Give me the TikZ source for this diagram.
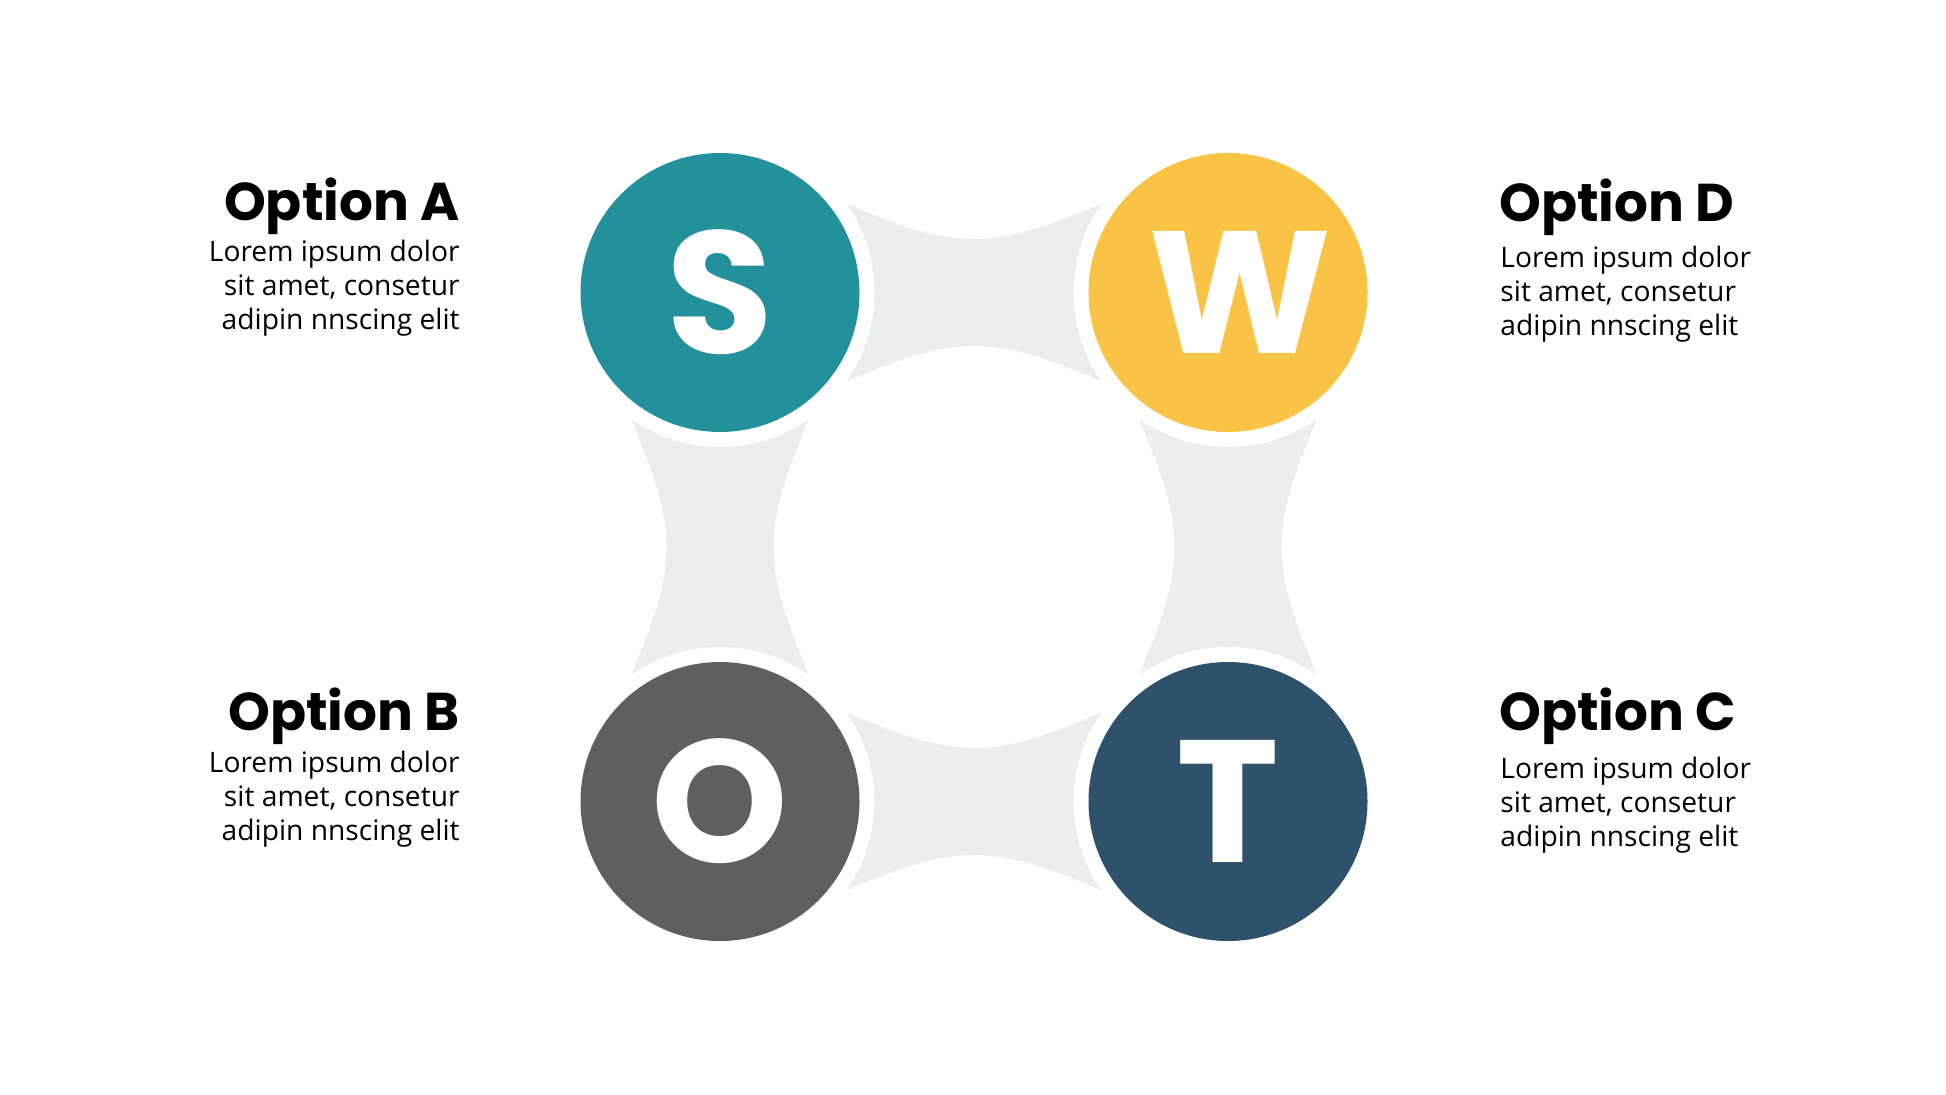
\documentclass[tikz,border=0pt]{standalone}
\usepackage{fontspec}
\setmainfont{Open Sans}
\newfontfamily\headfont{Poppins}
\usetikzlibrary{calc}
\definecolor{cteal}{HTML}{23919B}
\definecolor{cyellow}{HTML}{F9C446}
\definecolor{cgrey}{HTML}{605F5E}
\definecolor{cnavy}{HTML}{2F526C}
\definecolor{linkgrey}{HTML}{EAEEEE}
\begin{document}
\begin{tikzpicture}[x=0.5pt,y=-0.5pt,
  dot/.style={circle, inner sep=0pt, minimum size=139.5pt, text=white,
    font=\headfont\bfseries\fontsize{87pt}{87pt}\selectfont,
    preaction={draw=white, line width=15pt}},
  title/.style={inner sep=0pt, font=\headfont\bfseries\fontsize{26.6pt}{30pt}\selectfont},
  body/.style={inner sep=0pt, font=\fontsize{14.1pt}{17pt}\selectfont},
  link/.pic={\fill[linkgrey] (-127,-88.5) .. controls (-74,-66.5) and (-39,-53.5) .. (0,-53.5)
      .. controls (39,-53.5) and (74,-66.5) .. (127,-88.5) -- (254,0) -- (127,88.5)
      .. controls (74,66.5) and (39,53.5) .. (0,53.5)
      .. controls (-39,53.5) and (-74,66.5) .. (-127,88.5) -- (-254,0) -- cycle;}
]
\useasboundingbox (0,0) rectangle (1946,1095);
\coordinate (cS) at (720,292.5);
\coordinate (cW) at (1228,292.5);
\coordinate (cO) at (720,801.5);
\coordinate (cT) at (1228,801.5);
% connectors
\pic at ($(cS)!0.5!(cW)$) {link};
\pic at ($(cO)!0.5!(cT)$) {link};
\pic[rotate=90] at ($(cS)!0.5!(cO)$) {link};
\pic[rotate=90] at ($(cW)!0.5!(cT)$) {link};
% circles
\node[dot, fill=cteal] (S) at (cS) {S};
\node[dot, fill=cyellow] (W) at (cW) {\hspace*{12pt}W};
\node[dot, fill=cgrey] (O) at (cO) {O};
\node[dot, fill=cnavy] (T) at (cT) {T};
% left texts
\node[title, anchor=base east] (tA) at (460,221) {Option A};
\node[body, anchor=base east] (a1) at (460,262) {Lorem ipsum dolor};
\node[body, anchor=base east] (a2) at (460,296) {sit amet, consetur};
\node[body, anchor=base east] (a3) at (460,330) {adipin nnscing elit};
\node[title, anchor=base east] (tB) at (460,730) {Option B};
\node[body, anchor=base east] (b1) at (460,772) {Lorem ipsum dolor};
\node[body, anchor=base east] (b2) at (460,806) {sit amet, consetur};
\node[body, anchor=base east] (b3) at (460,840) {adipin nnscing elit};
% right texts
\node[title, anchor=base west] (tD) at (1499,221.5) {Option D};
\node[body, anchor=base west] (d1) at (1500,268) {Lorem ipsum dolor};
\node[body, anchor=base west] (d2) at (1500,302) {sit amet, consetur};
\node[body, anchor=base west] (d3) at (1500,336) {adipin nnscing elit};
\node[title, anchor=base west] (tC) at (1499,730) {Option C};
\node[body, anchor=base west] (c1) at (1500,778) {Lorem ipsum dolor};
\node[body, anchor=base west] (c2) at (1500,812) {sit amet, consetur};
\node[body, anchor=base west] (c3) at (1500,846) {adipin nnscing elit};
\end{tikzpicture}
\end{document}
